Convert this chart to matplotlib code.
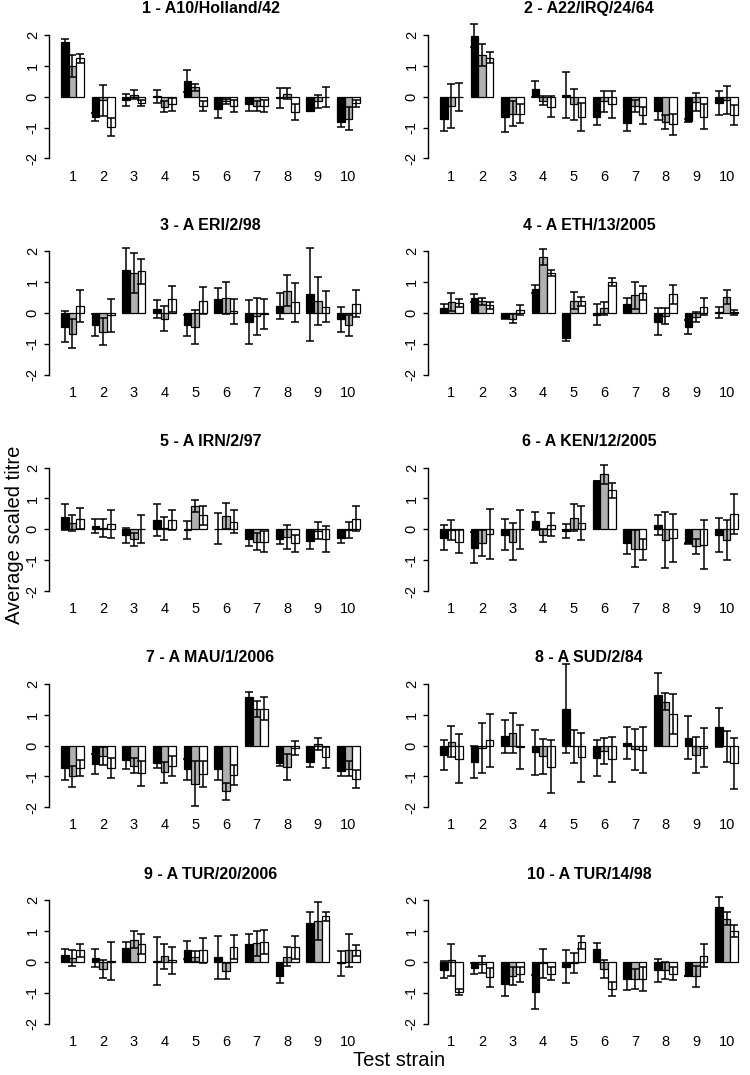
import matplotlib
matplotlib.use("Agg")
import matplotlib.pyplot as plt
import numpy as np

plt.rcParams['font.family'] = ['Liberation Sans', 'DejaVu Sans']

titles = ["1 - A10/Holland/42", "2 - A22/IRQ/24/64", "3 - A ERI/2/98", "4 - A ETH/13/2005",
          "5 - A IRN/2/97", "6 - A KEN/12/2005", "7 - A MAU/1/2006", "8 - A SUD/2/84",
          "9 - A TUR/20/2006", "10 - A TUR/14/98"]
test_strains = ["1", "2", "3", "4", "5", "6", "7", "8", "9", "10"]
y_ticks = [-2, -1, 0, 1, 2]

black_mean = [
    [1.76, -0.65, -0.10, 0.01, 0.50, -0.40, -0.25, -0.05, -0.45, -0.83],
    [-0.72, 1.98, -0.65, 0.24, 0.05, -0.67, -0.85, -0.47, -0.78, -0.20],
    [-0.45, -0.40, 1.40, 0.13, -0.40, 0.45, -0.30, 0.23, 0.60, -0.20],
    [0.15, 0.48, -0.15, 0.78, -0.80, -0.05, 0.30, -0.28, -0.45, 0.02],
    [0.40, 0.10, -0.20, 0.30, -0.03, 0.02, -0.30, -0.30, -0.38, -0.27],
    [-0.27, -0.60, -0.17, 0.27, -0.05, 1.58, -0.45, 0.15, -0.45, -0.17],
    [-0.73, -0.60, -0.48, -0.58, -0.77, -0.75, 1.58, -0.58, -0.53, -0.82],
    [-0.30, -0.52, 0.30, -0.22, 1.20, -0.40, 0.08, 1.63, 0.25, 0.60],
    [0.23, 0.13, 0.45, 0.03, 0.38, 0.15, 0.57, -0.47, 1.25, -0.05],
    [-0.25, -0.20, -0.72, -0.98, -0.15, 0.42, -0.55, -0.27, -0.45, 1.78],
]
black_err = [
    [0.10, 0.13, 0.20, 0.20, 0.35, 0.30, 0.20, 0.33, 0.02, 0.15],
    [0.40, 0.37, 0.50, 0.26, 0.75, 0.25, 0.25, 0.27, 0.05, 0.38],
    [0.50, 0.36, 0.72, 0.30, 0.33, 0.37, 0.72, 0.42, 1.50, 0.40],
    [0.15, 0.12, 0.05, 0.14, 0.10, 0.34, 0.20, 0.43, 0.22, 0.17],
    [0.43, 0.22, 0.25, 0.52, 0.30, 0.50, 0.23, 0.18, 0.25, 0.17],
    [0.40, 0.50, 0.50, 0.30, 0.22, 0.00, 0.35, 0.32, 0.02, 0.55],
    [0.40, 0.33, 0.27, 0.13, 0.35, 0.35, 0.15, 0.07, 0.17, 0.15],
    [0.48, 0.52, 0.53, 0.73, 1.43, 0.58, 0.52, 0.73, 0.70, 0.63],
    [0.20, 0.30, 0.20, 0.78, 0.30, 0.70, 0.33, 0.20, 0.37, 0.40],
    [0.28, 0.18, 0.40, 0.55, 0.55, 0.20, 0.37, 0.37, 0.00, 0.32],
]
grey_mean = [
    [1.00, -0.12, 0.07, -0.33, 0.30, -0.15, -0.30, 0.10, -0.15, -0.72],
    [-0.30, 1.35, -0.55, -0.13, -0.25, -0.15, -0.30, -0.82, -0.17, -0.10],
    [-0.67, -0.60, 1.30, -0.18, -0.45, 0.50, -0.10, 0.72, 0.38, -0.40],
    [0.35, 0.38, -0.18, 1.83, 0.40, 0.15, 0.57, -0.10, -0.13, 0.52],
    [0.20, 0.05, -0.33, 0.03, 0.75, 0.42, -0.40, -0.25, -0.05, -0.02],
    [-0.02, -0.45, -0.40, -0.20, 0.38, 1.78, -0.63, -0.35, -0.55, -0.35],
    [-1.00, -0.33, -0.65, -0.87, -1.23, -1.48, 1.18, -0.68, 0.05, -0.75],
    [0.12, -0.08, 0.42, -0.35, -0.02, -0.17, -0.12, 1.42, -0.30, -0.02],
    [0.12, -0.23, 0.72, 0.18, 0.17, -0.30, 0.60, 0.17, 1.32, 0.37],
    [0.07, -0.08, -0.45, -0.05, -0.03, -0.23, -0.55, -0.27, -0.47, 1.40],
]
grey_err = [
    [0.35, 0.50, 0.14, 0.18, 0.10, 0.08, 0.17, 0.17, 0.22, 0.37],
    [0.70, 0.36, 0.40, 0.15, 0.50, 0.35, 0.20, 0.22, 0.30, 0.45],
    [0.48, 0.45, 0.65, 0.40, 0.56, 0.52, 0.60, 0.50, 0.78, 0.35],
    [0.30, 0.12, 0.15, 0.26, 0.28, 0.20, 0.43, 0.25, 0.15, 0.23],
    [0.25, 0.30, 0.20, 0.37, 0.20, 0.42, 0.27, 0.38, 0.28, 0.27],
    [0.33, 0.42, 0.60, 0.20, 0.45, 0.30, 0.60, 0.90, 0.25, 0.65],
    [0.33, 0.30, 0.25, 0.35, 0.73, 0.28, 0.25, 0.42, 0.20, 0.25],
    [0.50, 0.80, 0.65, 0.58, 0.53, 0.43, 0.66, 0.27, 0.58, 0.50],
    [0.25, 0.30, 0.28, 0.40, 0.18, 0.27, 0.40, 0.30, 0.62, 0.55],
    [0.52, 0.27, 0.30, 0.48, 0.32, 0.30, 0.32, 0.28, 0.35, 0.22],
]
white_mean = [
    [1.24, -0.97, -0.20, -0.25, -0.30, -0.30, -0.30, -0.50, 0.00, -0.22],
    [-0.02, 1.27, -0.55, -0.32, -0.65, -0.25, -0.60, -0.90, -0.65, -0.60],
    [0.23, -0.08, 1.35, 0.45, 0.40, 0.05, -0.03, 0.35, 0.20, 0.30],
    [0.33, 0.25, 0.10, 1.30, 0.38, 1.00, 0.65, 0.60, 0.20, 0.02],
    [0.35, 0.17, 0.00, 0.30, 0.45, 0.25, -0.40, -0.45, -0.30, 0.35],
    [-0.40, -0.15, 0.00, 0.15, 0.20, 1.27, -0.65, -0.28, -0.50, 0.50],
    [-0.73, -0.73, -0.90, -0.67, -0.93, -0.95, 1.20, -0.08, -0.38, -1.08],
    [-0.42, 0.17, -0.05, -0.68, -0.38, -0.45, -0.15, 1.02, -0.07, -0.58],
    [0.37, 0.03, 0.57, 0.05, 0.38, 0.48, 0.65, 0.47, 1.48, 0.37],
    [-0.97, -0.50, -0.40, -0.38, 0.63, -0.88, -0.55, -0.38, 0.20, 1.00],
]
white_err = [
    [0.16, 0.29, 0.10, 0.20, 0.17, 0.20, 0.20, 0.25, 0.32, 0.10],
    [0.45, 0.18, 0.30, 0.35, 0.45, 0.45, 0.28, 0.33, 0.40, 0.33],
    [0.53, 0.55, 0.40, 0.43, 0.43, 0.42, 0.48, 0.63, 0.50, 0.43],
    [0.13, 0.12, 0.17, 0.10, 0.15, 0.13, 0.22, 0.30, 0.28, 0.08],
    [0.33, 0.45, 0.45, 0.32, 0.30, 0.38, 0.33, 0.28, 0.42, 0.40],
    [0.38, 0.80, 0.64, 0.38, 0.55, 0.24, 0.33, 0.78, 0.80, 0.65],
    [0.25, 0.33, 0.40, 0.33, 0.42, 0.32, 0.36, 0.22, 0.35, 0.30],
    [0.80, 0.87, 0.72, 0.87, 0.80, 0.72, 0.75, 0.65, 0.63, 0.82],
    [0.20, 0.62, 0.33, 0.43, 0.40, 0.40, 0.38, 0.37, 0.15, 0.18],
    [0.10, 0.30, 0.25, 0.20, 0.22, 0.22, 0.38, 0.20, 0.37, 0.20],
]

series = [(black_mean, black_err, "black"),
          (grey_mean, grey_err, "#b0b0b0"),
          (white_mean, white_err, "white")]

W, H = 750, 1075
fig = plt.figure(figsize=(W / 100, H / 100), dpi=100)

unit = 30.85
col_left = [49, 428]
col_right = [372, 750]
row_y2 = [35 + 216.3 * r for r in range(5)]

n_groups = len(test_strains)
group_start = 1 + 4 * np.arange(n_groups)

for p in range(10):
    r, c = divmod(p, 2)
    top = row_y2[r] - 0.16 * unit
    bot = row_y2[r] + 4.16 * unit
    ax = fig.add_axes([col_left[c] / W, 1 - bot / H,
                       (col_right[c] - col_left[c]) / W, (bot - top) / H])
    for j, (means, errs, color) in enumerate(series):
        x = group_start + j + 0.5
        ax.bar(x, means[p], width=1.0, color=color, edgecolor="black",
               linewidth=0.9, zorder=2)
        ax.errorbar(x, means[p], yerr=errs[p], fmt="none", ecolor="black",
                    elinewidth=1.1, capsize=2.6, capthick=1.1, zorder=3,
                    clip_on=False)
    ax.set_xlim(1 - 0.04 * 39, 40 + 0.04 * 39)
    ax.set_ylim(-2.16, 2.16)
    for s in ["top", "right", "bottom"]:
        ax.spines[s].set_visible(False)
    ax.spines["left"].set_bounds(-2, 2)
    ax.spines["left"].set_linewidth(1.0)
    ax.set_yticks(y_ticks)
    ax.set_yticklabels([str(t) for t in y_ticks], rotation=90, va="center",
                       fontsize=10.5)
    ax.tick_params(axis="y", length=3.6, width=1.0, pad=3.0)
    ax.set_xticks(group_start + 1.5)
    ax.set_xticklabels(test_strains, fontsize=10.5)
    ax.tick_params(axis="x", length=0, pad=4.5)
    ax.set_title(titles[p], fontsize=11.5, fontweight="bold", pad=12)
    ax.patch.set_visible(False)

fig.text(15 / W, 1 - 535 / H, "Average scaled titre", rotation=90,
         ha="center", va="center", fontsize=14.5)
fig.text(399 / W, 1 - 1060 / H, "Test strain", ha="center", va="center",
         fontsize=14.5)

fig.savefig("out.png", dpi=100)
